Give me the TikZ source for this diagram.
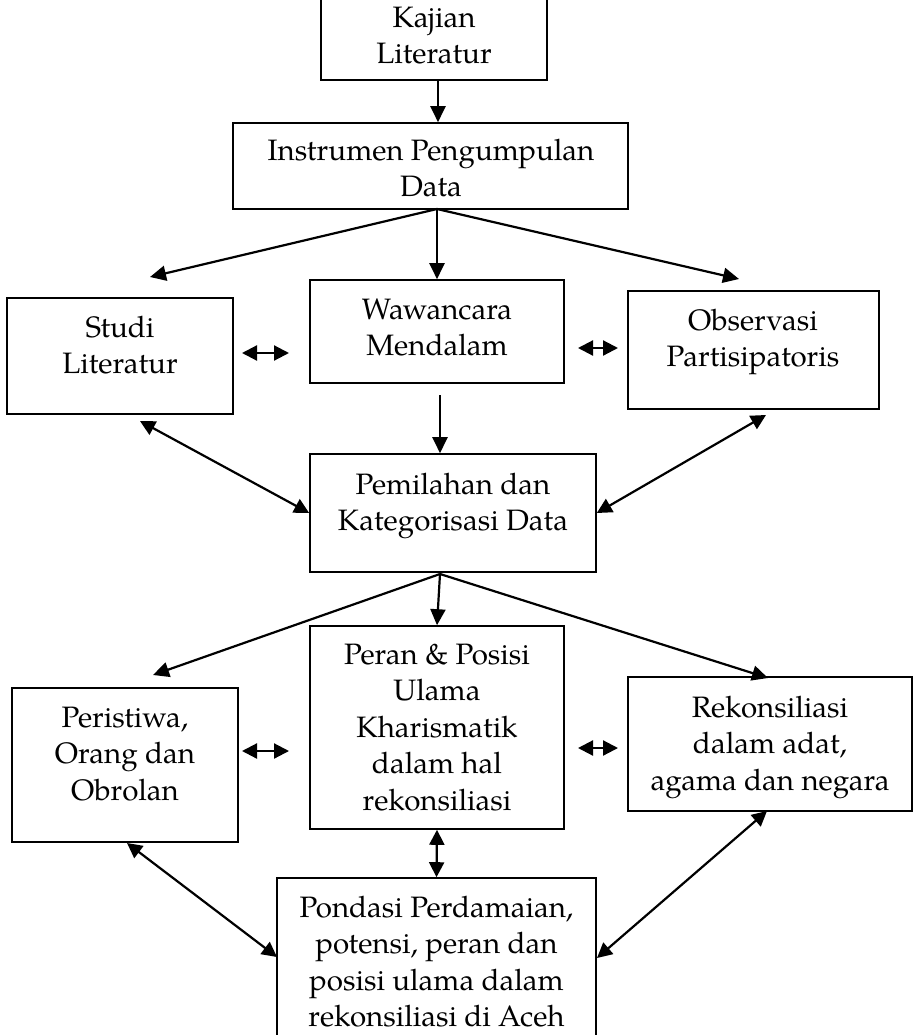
\documentclass[tikz,border=0pt]{standalone}
\usepackage{fontspec}
\setmainfont{TeX Gyre Pagella}
\usetikzlibrary{arrows.meta,calc}
\begin{document}
\begin{tikzpicture}[x=1pt,y=-1pt,
  box/.style={draw, line width=1.6pt, inner sep=0pt},
  txt/.style={font=\fontsize{29.5}{36.5}\selectfont, align=center, inner sep=0pt, anchor=north},
  arr/.style={line width=2.2pt, -{Triangle[length=16pt,width=15pt]}},
  darr/.style={line width=2.2pt, {Triangle[length=15pt,width=15pt]}-{Triangle[length=15pt,width=15pt]}}]
\useasboundingbox (0,0) rectangle (913,1035);
\clip (0,0) rectangle (913,1035);
% boxes
\node[box, minimum width=226pt, minimum height=130pt] (kaj) at (434,15) {};
\node[box, minimum width=395pt, minimum height=86pt] (ins) at (430.5,166) {};
\node[box, minimum width=226pt, minimum height=116pt] (stu) at (120,356) {};
\node[box, minimum width=254pt, minimum height=103pt] (waw) at (437,331.5) {};
\node[box, minimum width=251pt, minimum height=118pt] (obs) at (753.5,350) {};
\node[box, minimum width=286pt, minimum height=118pt] (pem) at (453,513) {};
\node[box, minimum width=226pt, minimum height=154pt] (per) at (125,765) {};
\node[box, minimum width=254pt, minimum height=203pt] (pp) at (437,727.5) {};
\node[box, minimum width=284pt, minimum height=134pt] (rek) at (770,744) {};
\node[box, minimum width=319pt, minimum height=197pt] (pon) at (436.5,976.5) {};
% texts
\node[txt] (kajT) at (434,1.45) {\strut Kajian\\Literatur};
\node[txt] (insT) at (431,134.45) {\strut Instrumen Pengumpulan\\Data};
\node[txt] (stuT) at (120,311.45) {\strut Studi\\Literatur};
\node[txt] (wawT) at (437,293.45) {\strut Wawancara\\Mendalam};
\node[txt] (obsT) at (753,304.45) {\strut Observasi\\Partisipatoris};
\node[txt] (pemT) at (453,468.45) {\strut Pemilahan dan\\Kategorisasi Data};
\node[txt] (perT) at (125,701.45) {\strut Peristiwa,\\Orang dan\\Obrolan};
\node[txt] (ppT) at (437,638.45) {\strut Peran \& Posisi\\Ulama\\Kharismatik\\dalam hal\\rekonsiliasi};
\node[txt] (rekT) at (770,691.45) {\strut Rekonsiliasi\\dalam adat,\\agama dan negara};
\node[txt] (ponT) at (436.5,891.45) {\strut Pondasi Perdamaian,\\potensi, peran dan\\posisi ulama dalam\\rekonsiliasi di Aceh};
% connector end points
\coordinate (insB) at (437,209);
\coordinate (tStu) at (150,277);
\coordinate (tObs) at (739,279);
\coordinate (sw1) at (242,353);
\coordinate (sw2) at (289,353);
\coordinate (wo1) at (578,348);
\coordinate (wo2) at (618,348);
\coordinate (wawB) at (440,395);
\coordinate (stuB) at (140,421);
\coordinate (obsB) at (766,415);
\coordinate (pemB) at (440,574);
\coordinate (tPer) at (153,675);
\coordinate (tRek) at (768,678);
\coordinate (pp1) at (242,751);
\coordinate (pp2) at (289,751);
\coordinate (pr1) at (578,748);
\coordinate (pr2) at (618,748);
\coordinate (perB) at (127,843);
\coordinate (ponL) at (277,957);
\coordinate (rekB) at (767,811);
\coordinate (ponR) at (597,958);
% connectors
\draw[arr] ([xshift=4pt]kaj.south) -- ([xshift=4pt]kaj.south |- ins.north);
\draw[arr] (insB) -- (tStu);
\draw[arr] (insB) -- (waw.north);
\draw[arr] (insB) -- (tObs);
\draw[darr] (sw1) -- (sw2);
\draw[darr] (wo1) -- (wo2);
\draw[arr] (wawB) -- (wawB |- pem.north);
\draw[darr] (stuB) -- (pem.west);
\draw[darr] (obsB) -- (pem.east);
\draw[arr] (pemB) -- (tPer);
\draw[arr] (pemB) -- (pp.north);
\draw[arr] (pemB) -- (tRek);
\draw[darr] (pp1) -- (pp2);
\draw[darr] (pr1) -- (pr2);
\draw[darr] (perB) -- (ponL);
\draw[darr] (pp.south) -- (pon.north);
\draw[darr] (rekB) -- (ponR);
\end{tikzpicture}
\end{document}
